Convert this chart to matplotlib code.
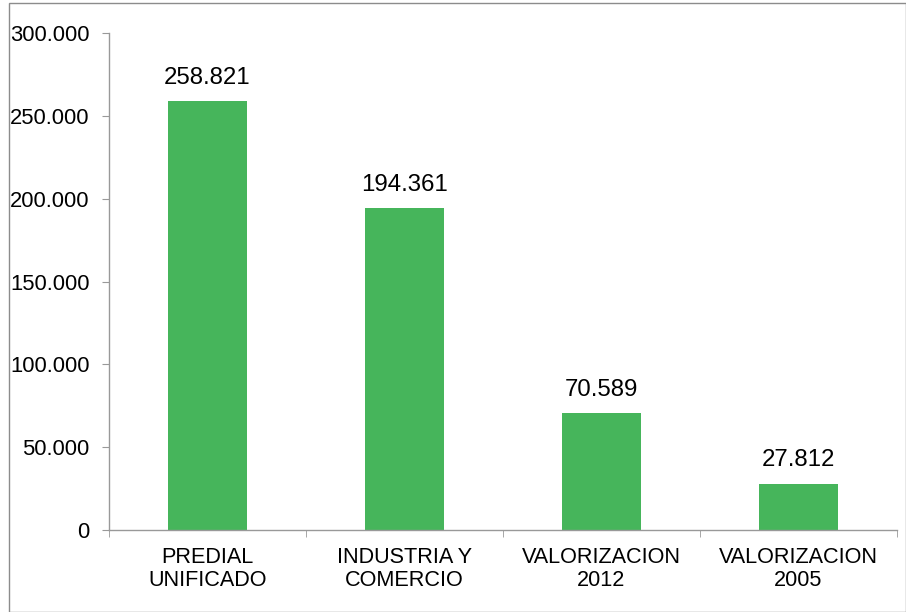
import matplotlib.pyplot as plt
from matplotlib.patches import Rectangle

categorias = ['PREDIAL\nUNIFICADO', 'INDUSTRIA Y\nCOMERCIO', 'VALORIZACION\n2012', 'VALORIZACION\n2005']
valores = [258821, 194361, 70589, 27812]
etiquetas = ['258.821', '194.361', '70.589', '27.812']
yticks = [0, 50000, 100000, 150000, 200000, 250000, 300000]
ytick_labels = ['0', '50.000', '100.000', '150.000', '200.000', '250.000', '300.000']

plt.rcParams['font.family'] = ['Liberation Sans', 'DejaVu Sans']

W, H = 906, 612
fig = plt.figure(figsize=(W / 100, H / 100), dpi=100)
ax = fig.add_axes([109 / W, 1 - 530 / H, (897 - 109) / W, (530 - 33) / H])

# borde del grafico
fig.patches.append(Rectangle((9 / W, 0), 1 - 9 / W - 0.5 / W, 1 - 3 / H,
                             transform=fig.transFigure, fill=False,
                             edgecolor='#8c8c8c', linewidth=1))

x = range(len(valores))
ax.bar(x, valores, width=0.4, color='#46B55B')
for i, (v, t) in enumerate(zip(valores, etiquetas)):
    ax.annotate(t, (i, v), xytext=(0, 9), textcoords='offset points',
                ha='center', va='bottom', fontsize=17.3)

ax.set_xlim(-0.5, len(valores) - 0.5)
ax.set_ylim(0, 300000)
ax.set_yticks(yticks)
ax.set_yticklabels(ytick_labels, fontsize=15.8)

ax.set_xticks([i for i in x])
ax.set_xticklabels(categorias, fontsize=15.6, linespacing=1.15)
ax.tick_params(axis='x', length=0, pad=12)
ax.set_xticks([i - 0.5 for i in range(len(valores) + 1)], minor=True)
ax.tick_params(axis='x', which='minor', length=5, color='#999999', direction='out')
ax.tick_params(axis='y', length=5, color='#999999', direction='out', pad=9)

for s in ['top', 'right']:
    ax.spines[s].set_visible(False)
for s in ['left', 'bottom']:
    ax.spines[s].set_color('#999999')
    ax.spines[s].set_linewidth(1)

fig.savefig('out.png', dpi=100)
